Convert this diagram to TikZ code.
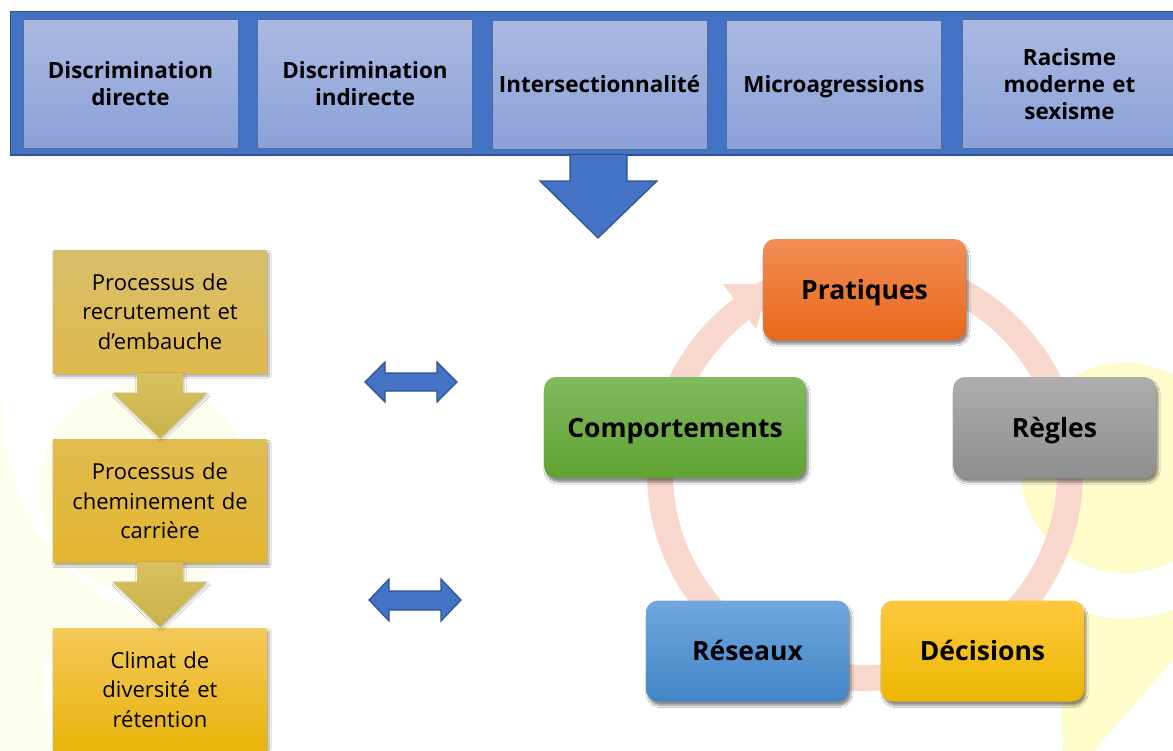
\documentclass[tikz,border=0pt]{standalone}
\usepackage{fontspec}
\setmainfont{Open Sans}
\usetikzlibrary{shadows,shadows.blur}
\definecolor{barblue}{HTML}{4472C4}
\definecolor{bardark}{HTML}{2F528F}
\definecolor{tbtop}{HTML}{AAB9E1}
\definecolor{tbbot}{HTML}{8AA1D8}
\definecolor{ringc}{HTML}{F8D7CD}
\definecolor{wmright}{HTML}{FFFCCC}
\definecolor{wmleft}{HTML}{FEFEEE}
\definecolor{goldarrow}{HTML}{D5BA4E}
\definecolor{lonetop}{HTML}{D9BE6B}
\definecolor{lonebot}{HTML}{DEB94B}
\definecolor{ltwotop}{HTML}{E0BC50}
\definecolor{ltwobot}{HTML}{E3B52F}
\definecolor{lthreetop}{HTML}{F4C85A}
\definecolor{lthreebot}{HTML}{E8B40A}
\definecolor{prtop}{HTML}{F18D55}
\definecolor{prbot}{HTML}{E8691B}
\definecolor{rgtop}{HTML}{ADADAD}
\definecolor{rgbot}{HTML}{8F8F8F}
\definecolor{dctop}{HTML}{FFC83F}
\definecolor{dcbot}{HTML}{EBB700}
\definecolor{rstop}{HTML}{70A7DD}
\definecolor{rsbot}{HTML}{4285C6}
\definecolor{cmtop}{HTML}{80BA5E}
\definecolor{cmbot}{HTML}{61A233}
\begin{document}
\begin{tikzpicture}[x=1pt,y=-1pt,
  topbox/.style={draw=bardark!85, line width=0.8pt, top color=tbtop, bottom color=tbbot,
    minimum width=215pt, minimum height=129pt, inner sep=0pt, text width=205pt, align=center,
    font=\bfseries\fontsize{22.4}{27}\selectfont},
  oneline/.style={text height=16pt, text depth=0pt},
  lbox/.style={minimum width=214pt, minimum height=123pt, inner sep=0pt, text width=204pt,
    align=center, font=\fontsize{22}{29.5}\selectfont,
    blur shadow={shadow xshift=2pt, shadow yshift=-3pt, shadow opacity=35, shadow blur steps=6}},
  cyc/.style={rounded corners=12pt, minimum width=203pt, minimum height=101pt, inner sep=0pt,
    align=center, font=\bfseries\fontsize{26.5}{30}\selectfont, text height=19pt, text depth=0pt,
    blur shadow={shadow xshift=2pt, shadow yshift=-4pt, shadow opacity=45, shadow blur steps=6}},
  blockarrow/.style={fill=barblue, draw=bardark, line width=1.2pt, line join=miter},
  goldblock/.style={top color=goldarrow!90!white, bottom color=goldarrow!95!black}
]
\useasboundingbox (0,0) rectangle (1173,750);
\fill[white] (0,0) rectangle (1173,750);

% faint watermark shapes (left)
\fill[wmleft] (145,488) circle[radius=106pt];
\fill[wmleft] (-20,400) -- (2,400) .. controls (4,520) and (70,610) .. (195,628)
  .. controls (120,640) and (60,650) .. (43,665) .. controls (45,700) and (48,730) .. (50,760)
  -- (-20,760) -- cycle;
% faint watermark shapes (right)
\fill[wmright] (1125,468) circle[radius=105pt];
\fill[wmright] (1083,612) arc[start angle=-107, end angle=-20, radius=145pt]
  -- (1190,600) -- (1190,640) -- (1086,760) -- (1064,760)
  .. controls (1058,700) and (1062,650) .. (1083,612) -- cycle;

% top bar
\fill[barblue] (10,11) rectangle (1190,155);
\draw[bardark, line width=1.5pt] (10,155) -- (1190,155);
\draw[bardark, line width=0.8pt] (10,11) rectangle (1190,155);
\node[topbox] (t1) at (130.5,84) {Discrimination\\directe};
\node[topbox] (t2) at (365,84) {Discrimination\\indirecte};
\node[topbox, oneline] (t3) at (599.5,84.5) {Intersectionnalité};
\node[topbox, oneline] (t4) at (834,84.5) {Microagressions};
\node[topbox] (t5) at (1069.5,84) {Racisme\\moderne et\\sexisme};

% big down arrow
\draw[blockarrow] (570,155) -- (570,181) -- (540,181) -- (598,238) -- (657,181) -- (627,181) -- (627,155);

% left column
\node[lbox, top color=lonetop, bottom color=lonebot] (l1) at (160,311.5) {Processus de\\recrutement et\\d’embauche};
\node[lbox, top color=ltwotop, bottom color=ltwobot] (l2) at (160,501) {Processus de\\cheminement de\\carrière};
\node[lbox, top color=lthreetop, bottom color=lthreebot] (l3) at (160,689.5) {Climat de\\diversité et\\rétention};
\path[goldblock, blur shadow={shadow xshift=1pt, shadow yshift=-2pt, shadow opacity=25}]
  (137,373) -- (183,373) -- (183,393) -- (207,393) -- (160,438) -- (113,393) -- (137,393) -- cycle;
\path[goldblock, blur shadow={shadow xshift=1pt, shadow yshift=-2pt, shadow opacity=25}]
  (137,562) -- (183,562) -- (183,582) -- (207,582) -- (160,627) -- (113,582) -- (137,582) -- cycle;

% double arrows
\draw[blockarrow] (365,382) -- (385,362) -- (385,373) -- (437,373) -- (437,362) -- (457,382)
  -- (437,402) -- (437,391) -- (385,391) -- (385,402) -- cycle;
\draw[blockarrow] (369,600) -- (389,579) -- (389,591) -- (441,591) -- (441,579) -- (461,600)
  -- (441,621) -- (441,610) -- (389,610) -- (389,621) -- cycle;

% cycle ring
\draw[ringc, line width=26pt] (865,473) circle[radius=205pt];
\fill[ringc] (723,284) -- (769,284) -- (756,329) -- cycle;

% cycle nodes
\node[cyc, top color=prtop, bottom color=prbot] (p) at (864.5,289.5) {Pratiques};
\node[cyc, top color=rgtop, bottom color=rgbot] (r) at (1054.5,427.5) {Règles};
\node[cyc, top color=dctop, bottom color=dcbot] (d) at (982.5,651) {Décisions};
\node[cyc, top color=rstop, bottom color=rsbot] (n) at (747.5,651) {Réseaux};
\node[cyc, minimum width=262pt, top color=cmtop, bottom color=cmbot] (c) at (675,427.5) {Comportements};
\end{tikzpicture}
\end{document}
